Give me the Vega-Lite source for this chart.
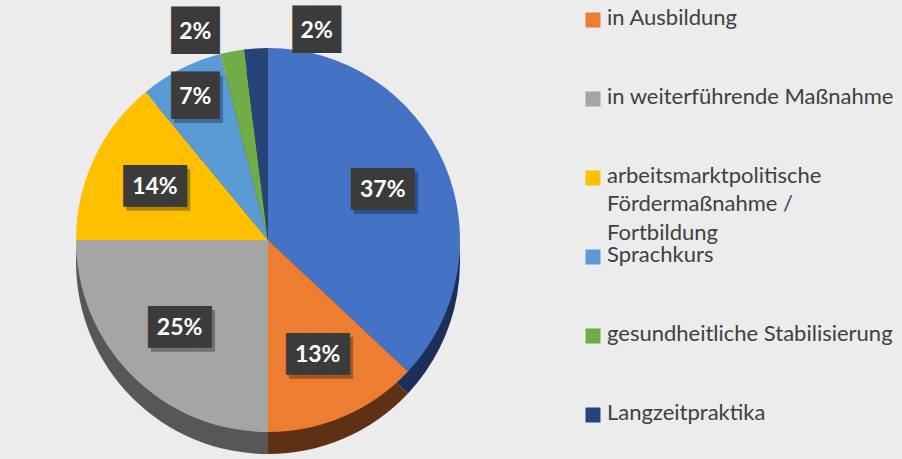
{
  "$schema": "https://vega.github.io/schema/vega-lite/v6.json",
  "width": 536,
  "height": 480,
  "padding": {"left": 0, "top": 0, "right": 20, "bottom": 0},
  "autosize": {"type": "pad"},
  "background": "#ececec",
  "data": {
    "values": [
      {"cat": "in Arbeit", "value": 0.37, "idx": 1},
      {"cat": "in Ausbildung", "value": 0.13, "idx": 2},
      {"cat": "in weiterführende Maßnahme", "value": 0.25, "idx": 3},
      {"cat": "arbeitsmarktpolitische\nFördermaßnahme /\nFortbildung", "value": 0.14, "idx": 4},
      {"cat": "Sprachkurs", "value": 0.07, "idx": 5},
      {"cat": "gesundheitliche Stabilisierung", "value": 0.02, "idx": 6},
      {"cat": "Langzeitpraktika", "value": 0.02, "idx": 7}
    ]
  },
  "encoding": {
    "theta": {"field": "value", "type": "quantitative", "stack": true},
    "order": {"field": "idx", "type": "quantitative"}
  },
  "layer": [
    {
      "mark": {"type": "arc", "radius": 192, "yOffset": 22},
      "encoding": {
        "color": {
          "field": "cat", "type": "nominal",
          "scale": {
            "domain": ["in Arbeit", "in Ausbildung", "in weiterführende Maßnahme", "arbeitsmarktpolitische\nFördermaßnahme /\nFortbildung", "Sprachkurs", "gesundheitliche Stabilisierung", "Langzeitpraktika"],
            "range": ["#1c2f58", "#5e3115", "#575757", "#7f6000", "#2e4e6b", "#385723", "#131f3a"]
          },
          "legend": null
        }
      }
    },
    {
      "mark": {"type": "arc", "radius": 192},
      "encoding": {
        "color": {
          "field": "cat", "type": "nominal",
          "scale": {
            "domain": ["in Arbeit", "in Ausbildung", "in weiterführende Maßnahme", "arbeitsmarktpolitische\nFördermaßnahme /\nFortbildung", "Sprachkurs", "gesundheitliche Stabilisierung", "Langzeitpraktika"],
            "range": ["#4472c4", "#ed7d31", "#a5a5a5", "#ffc000", "#5b9bd5", "#70ad47", "#264478"]
          },
          "legend": {
            "title": null,
            "orient": "none",
            "legendX": 582,
            "legendY": 9,
            "values": ["in Ausbildung", "in weiterführende Maßnahme", "arbeitsmarktpolitische\nFördermaßnahme /\nFortbildung", "Sprachkurs", "gesundheitliche Stabilisierung", "Langzeitpraktika"],
            "labelExpr": "split(indexof(datum.label, '\\n') < 0 ? datum.label + '\\n \\n ' : datum.label, '\\n')",
            "symbolType": "square",
            "symbolSize": 225,
            "symbolStrokeWidth": 0,
            "labelFont": "Lato",
            "labelFontSize": 22,
            "labelColor": "#404040",
            "labelLimit": 0,
            "labelOffset": 3,
            "rowPadding": 0,
            "labelBaseline": "top",
            "encode": {"labels": {"update": {"dy": {"value": -12}, "lineHeight": {"value": 28.3}}}}
          }
        }
      }
    },
    {
      "mark": {"type": "text", "radius": 125, "font": "DejaVu Sans Mono", "fontSize": 35, "text": "███", "color": "#000000", "dx": 3, "dy": 4},
      "encoding": {"opacity": {"condition": {"test": "datum.value >= 0.1", "value": 0.3}, "value": 0}}
    },
    {
      "mark": {"type": "text", "radius": 125, "font": "DejaVu Sans Mono", "fontSize": 35, "text": "███", "color": "#3b3b3b"},
      "encoding": {"opacity": {"condition": {"test": "datum.value >= 0.1", "value": 1}, "value": 0}}
    },
    {
      "mark": {"type": "text", "radius": 125, "font": "Lato", "fontSize": 23, "fontWeight": "bold", "color": "#ffffff"},
      "encoding": {
        "text": {"field": "value", "type": "quantitative", "format": ".0%"},
        "opacity": {"condition": {"test": "datum.value >= 0.1", "value": 1}, "value": 0}
      }
    },
    {
      "mark": {"type": "text", "radius": 160, "font": "DejaVu Sans Mono", "fontSize": 40, "text": "██", "color": "#000000", "dx": 3, "dy": 4},
      "encoding": {"opacity": {"condition": {"test": "datum.idx == 5", "value": 0.3}, "value": 0}}
    },
    {
      "mark": {"type": "text", "radius": 160, "font": "DejaVu Sans Mono", "fontSize": 40, "text": "██", "color": "#3b3b3b"},
      "encoding": {"opacity": {"condition": {"test": "datum.idx == 5", "value": 1}, "value": 0}}
    },
    {
      "mark": {"type": "text", "radius": 160, "font": "Lato", "fontSize": 23, "fontWeight": "bold", "color": "#ffffff"},
      "encoding": {
        "text": {"field": "value", "type": "quantitative", "format": ".0%"},
        "opacity": {"condition": {"test": "datum.idx == 5", "value": 1}, "value": 0}
      }
    },
    {
      "mark": {"type": "text", "radius": 212, "font": "DejaVu Sans Mono", "fontSize": 40, "text": "██", "color": "#3b3b3b", "dx": -33, "dy": 0},
      "encoding": {"opacity": {"condition": {"test": "datum.idx == 6", "value": 1}, "value": 0}}
    },
    {
      "mark": {"type": "text", "radius": 212, "font": "Lato", "fontSize": 23, "fontWeight": "bold", "color": "#ffffff", "dx": -33, "dy": 0},
      "encoding": {
        "text": {"field": "value", "type": "quantitative", "format": ".0%"},
        "opacity": {"condition": {"test": "datum.idx == 6", "value": 1}, "value": 0}
      }
    },
    {
      "mark": {"type": "text", "radius": 212, "font": "DejaVu Sans Mono", "fontSize": 40, "text": "██", "color": "#3b3b3b", "dx": 62, "dy": 3},
      "encoding": {"opacity": {"condition": {"test": "datum.idx == 7", "value": 1}, "value": 0}}
    },
    {
      "mark": {"type": "text", "radius": 212, "font": "Lato", "fontSize": 23, "fontWeight": "bold", "color": "#ffffff", "dx": 62, "dy": 3},
      "encoding": {
        "text": {"field": "value", "type": "quantitative", "format": ".0%"},
        "opacity": {"condition": {"test": "datum.idx == 7", "value": 1}, "value": 0}
      }
    }
  ],
  "resolve": {"scale": {"color": "independent"}},
  "config": {"view": {"stroke": null}}
}
